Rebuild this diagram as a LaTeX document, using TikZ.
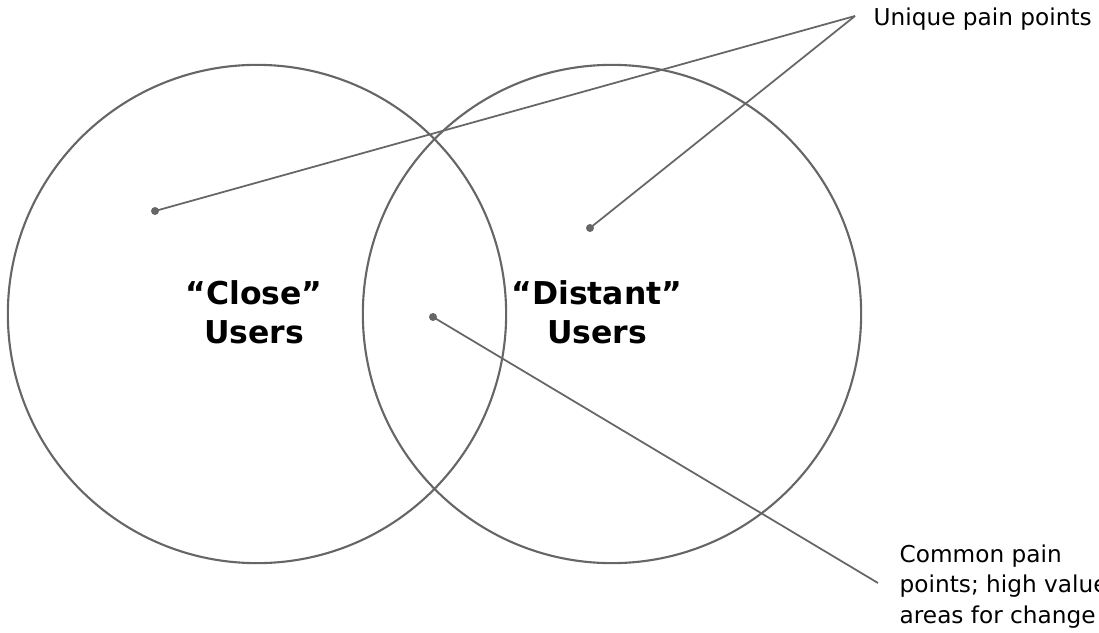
\documentclass[tikz,border=0pt]{standalone}
\usepackage{fontspec}
\setmainfont{DejaVu Sans}
\usepackage{tikz}
\usepackage{xcolor}

\definecolor{linegray}{HTML}{666666}

\begin{document}
\begin{tikzpicture}[
    x=0.01cm,y=-0.01cm,
    group/.style={draw=linegray,circle,line width=0.6pt,
        minimum size=4.98cm,inner sep=0pt},
    grouplabel/.style={align=center,inner sep=0pt,
        font=\fontsize{8.95pt}{11.1pt}\selectfont\bfseries},
    note/.style={align=left,inner sep=0pt,
        font=\fontsize{6.6pt}{8.54pt}\selectfont},
    pin/.style={circle,fill=linegray,minimum size=0.08cm,inner sep=0pt},
    leader/.style={draw=linegray,line width=0.5pt}
]
    \useasboundingbox (0,0) rectangle (1099,633);

    \node[group] (close) at (257,314) {};
    \node[group] (distant) at (612,314) {};

    \node[grouplabel] (closelabel) at (254,312) {“Close”\\Users};
    \node[grouplabel] (distantlabel) at (597,312) {“Distant”\\Users};

    \node[pin] (closepin) at (155,211) {};
    \node[pin] (distantpin) at (590,228) {};
    \node[pin] (commonpin) at (433,317) {};

    \coordinate (uniqueend) at (855,16);
    \coordinate (commonend) at (878,583);
    \node[note,anchor=base west] (unique) at (873,25) {Unique pain points};
    \node[note,anchor=base west] (common) at (899,623)
        {Common pain\\points; high value\\areas for change};

    \draw[leader] (closepin.center)--(uniqueend);
    \draw[leader] (distantpin.center)--(uniqueend);
    \draw[leader] (commonpin.center)--(commonend);
\end{tikzpicture}
\end{document}
